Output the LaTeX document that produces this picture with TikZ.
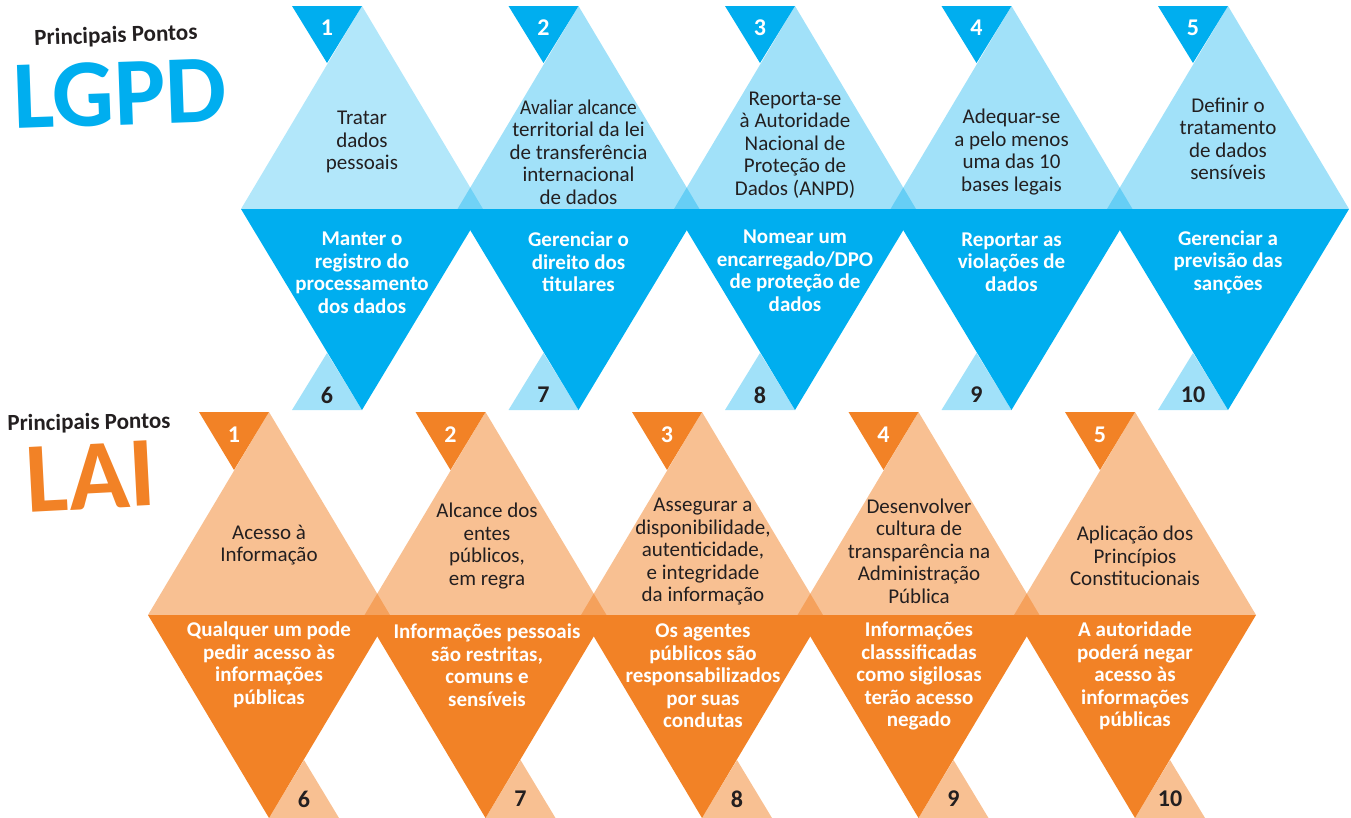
\documentclass[tikz,border=0pt]{standalone}
\usepackage{fontspec}
\setmainfont{Carlito}
\usepackage{graphicx}
\definecolor{lgpddark}{HTML}{00AEEF}
\definecolor{laidark}{HTML}{F28226}
\definecolor{txt}{HTML}{231F20}
\tikzset{
  lighttext/.style={align=center, text=txt, font=\fontsize{21}{22.5}\selectfont, inner sep=0pt},
  darktext/.style={align=center, text=white, font=\bfseries\fontsize{21}{22.5}\selectfont, inner sep=0pt},
  numwhite/.style={text=white, font=\bfseries\fontsize{24}{24}\selectfont, inner sep=0pt},
  numdark/.style={text=txt, font=\bfseries\fontsize{24}{24}\selectfont, inner sep=0pt},
  titlesmall/.style={text=txt, font=\bfseries\fontsize{23}{23}\selectfont, inner sep=0pt, text height=15pt, text depth=4pt},
  titlebig/.style={inner sep=0pt, text depth=0pt},
}
\begin{document}
\begin{tikzpicture}[x=1pt,y=-1pt]
\useasboundingbox (0,0) rectangle (1351,817);
% ---------------- LGPD row ----------------
\foreach \i/\op in {0/0.3,1/0.37,2/0.37,3/0.37,4/0.37}{
  \pgfmathsetmacro{\X}{362+216.5*\i}
  \fill[lgpddark, fill opacity=\op] (\X,6) -- (\X+121,209) -- (\X-121,209) -- cycle;
}
\foreach \i in {0,...,4}{
  \pgfmathsetmacro{\X}{362+216.5*\i}
  \fill[lgpddark] (\X-121,209) -- (\X+121,209) -- (\X,410) -- cycle;
  \fill[lgpddark] (\X-70,6) -- (\X,6) -- (\X-35,63) -- cycle;
  \fill[lgpddark, fill opacity=0.37] (\X-70,410) -- (\X,410) -- (\X-35,353) -- cycle;
}
% ---------------- LAI row ----------------
\foreach \i in {0,...,4}{
  \pgfmathsetmacro{\X}{269+216.5*\i}
  \fill[laidark, fill opacity=0.5] (\X,412) -- (\X+121,615) -- (\X-121,615) -- cycle;
}
\foreach \i in {0,...,4}{
  \pgfmathsetmacro{\X}{269+216.5*\i}
  \fill[laidark] (\X-121,615) -- (\X+121,615) -- (\X,818) -- cycle;
  \fill[laidark] (\X-70,412) -- (\X,412) -- (\X-35,470) -- cycle;
  \fill[laidark, fill opacity=0.5] (\X,818) -- (\X+70,818) -- (\X+35,760) -- cycle;
}
% ---------------- titles ----------------
\node[titlesmall, rotate=2] (ptop) at (116,37) {Principais Pontos};
\node[titlebig, text=lgpddark, font=\bfseries\fontsize{97}{97}\selectfont, text height=62pt, rotate=2] (lgpd) at (120,94) {LGPD};
\node[titlesmall, rotate=1] (pbot) at (89,424) {Principais Pontos};
\node[titlebig, text=laidark, font=\bfseries\fontsize{100}{100}\selectfont, text height=64pt, rotate=3] (lai) at (91,477) {LAI};
% ---------------- LGPD numbers ----------------
\node[numwhite] (g1) at (327,28) {1};
\node[numwhite] (g2) at (543.5,28) {2};
\node[numwhite] (g3) at (760,28) {3};
\node[numwhite] (g4) at (976.5,28) {4};
\node[numwhite] (g5) at (1193,28) {5};
\node[numdark] (g6) at (327,395) {6};
\node[numdark] (g7) at (543.5,395) {7};
\node[numdark] (g8) at (760,395) {8};
\node[numdark] (g9) at (976.5,395) {9};
\node[numdark] (g10) at (1193,395) {10};
% ---------------- LGPD texts ----------------
\node[lighttext] (gt1) at (362,142) {Tratar\\dados\\pessoais};
\node[lighttext] (gt2) at (578.5,152) {\scalebox{0.92}[1]{Avaliar alcance}\\territorial da lei\\de transferência\\internacional\\de dados};
\node[lighttext] (gt3) at (795,145) {Reporta-se\\à Autoridade\\Nacional de\\Proteção de\\Dados (ANPD)};
\node[lighttext] (gt4) at (1011.5,152) {Adequar-se\\a pelo menos\\uma das 10\\bases legais};
\node[lighttext] (gt5) at (1228,139) {Definir o\\tratamento\\de dados\\sensíveis};
\node[darktext] (gt6) at (362,273) {Manter o\\registro do\\processamento\\dos dados};
\node[darktext] (gt7) at (578.5,262) {Gerenciar o\\direito dos\\titulares};
\node[darktext] (gt8) at (795,271) {Nomear um\\encarregado/DPO\\de proteção de\\dados};
\node[darktext] (gt9) at (1011.5,262) {Reportar as\\violações de\\dados};
\node[darktext] (gt10) at (1228,262) {Gerenciar a\\previsão das\\sanções};
% ---------------- LAI numbers ----------------
\node[numwhite] (a1) at (234,435) {1};
\node[numwhite] (a2) at (450.5,435) {2};
\node[numwhite] (a3) at (667,435) {3};
\node[numwhite] (a4) at (883.5,435) {4};
\node[numwhite] (a5) at (1100,435) {5};
\node[numdark] (a6) at (304,799) {6};
\node[numdark] (a7) at (520.5,799) {7};
\node[numdark] (a8) at (737,799) {8};
\node[numdark] (a9) at (953.5,799) {9};
\node[numdark] (a10) at (1170,799) {10};
% ---------------- LAI texts ----------------
\node[lighttext] (at1) at (269,545) {Acesso à\\Informação};
\node[lighttext] (at2) at (487,546) {Alcance dos\\entes\\públicos,\\em regra};
\node[lighttext] (at3) at (703,552) {Assegurar a\\disponibilidade,\\autenticidade,\\e integridade\\da informação};
\node[lighttext] (at4) at (919,551) {Desenvolver\\cultura de\\transparência na\\Administração\\Pública};
\node[lighttext] (at5) at (1135,556) {Aplicação dos\\Princípios\\Constitucionais};
\node[darktext] (at6) at (269,665) {Qualquer um pode\\pedir acesso às\\informações\\públicas};
\node[darktext] (at7) at (487,665) {Informações pessoais\\são restritas,\\comuns e\\sensíveis};
\node[darktext] (at8) at (703,676) {Os agentes\\públicos são\\responsabilizados\\por suas\\condutas};
\node[darktext] (at9) at (919,676) {Informações\\classsificadas\\como sigilosas\\terão acesso\\negado};
\node[darktext] (at10) at (1135,676) {A autoridade\\poderá negar\\acesso às\\informações\\públicas};
\end{tikzpicture}
\end{document}
